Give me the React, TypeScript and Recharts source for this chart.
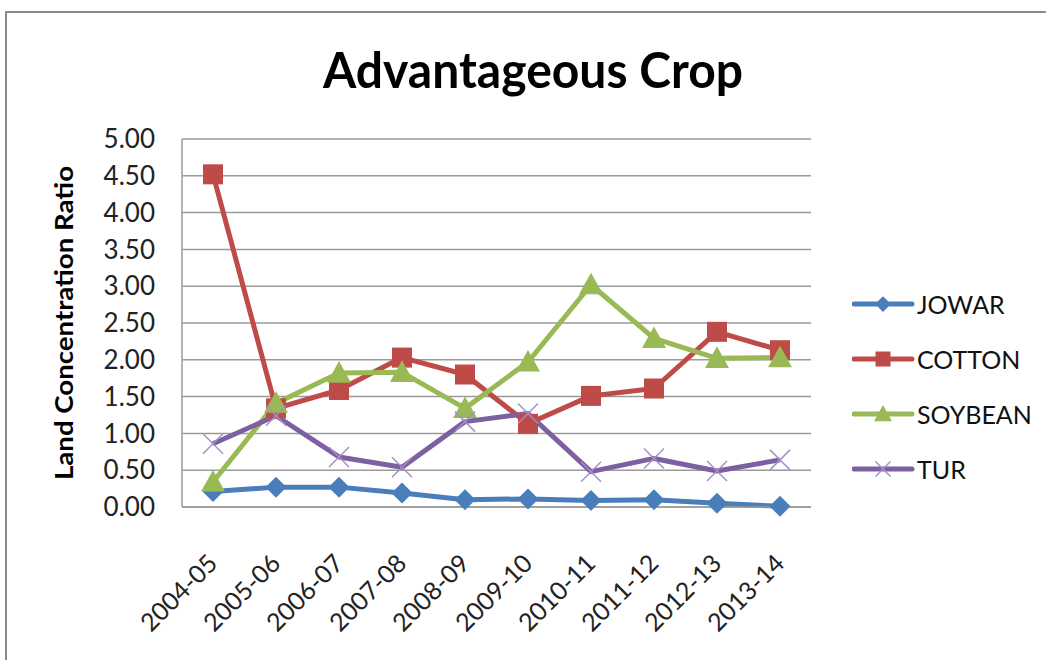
import React from "react";
import {
  LineChart,
  Line,
  XAxis,
  YAxis,
  CartesianGrid,
  Legend,
} from "recharts";

const years = [
  "2004-05",
  "2005-06",
  "2006-07",
  "2007-08",
  "2008-09",
  "2009-10",
  "2010-11",
  "2011-12",
  "2012-13",
  "2013-14",
];
const jowar = [0.21, 0.27, 0.27, 0.19, 0.1, 0.11, 0.09, 0.1, 0.05, 0.01];
const cotton = [4.52, 1.34, 1.59, 2.03, 1.8, 1.13, 1.51, 1.61, 2.38, 2.13];
const soybean = [0.34, 1.41, 1.82, 1.83, 1.34, 1.97, 3.02, 2.29, 2.02, 2.03];
const tur = [0.86, 1.24, 0.68, 0.54, 1.16, 1.27, 0.48, 0.66, 0.49, 0.64];
const yTicks = [0, 0.5, 1, 1.5, 2, 2.5, 3, 3.5, 4, 4.5, 5];

const data = years.map((year, i) => ({
  year,
  JOWAR: jowar[i],
  COTTON: cotton[i],
  SOYBEAN: soybean[i],
  TUR: tur[i],
}));

const FONT = "Lato, 'Open Sans', sans-serif";

const series = [
  { key: "JOWAR", color: "#4A7EBB", marker: "diamond" },
  { key: "COTTON", color: "#BE4B48", marker: "square" },
  { key: "SOYBEAN", color: "#98B954", marker: "triangle" },
  { key: "TUR", color: "#7D60A0", marker: "cross" },
];

const Marker = ({ type, cx, cy, color, s = 1 }: any) => {
  if (cx == null || cy == null) return null;
  if (type === "diamond") {
    const r = 10.5 * s;
    return (
      <path
        d={`M${cx},${cy - r}L${cx + r},${cy}L${cx},${cy + r}L${cx - r},${cy}Z`}
        fill={color}
      />
    );
  }
  if (type === "square") {
    const r = 10 * s;
    return <rect x={cx - r} y={cy - r} width={2 * r} height={2 * r} fill={color} />;
  }
  if (type === "triangle") {
    const r = 12 * s;
    return (
      <path
        d={`M${cx},${cy - r}L${cx + r},${cy + r * 0.8}L${cx - r},${cy + r * 0.8}Z`}
        fill={color}
      />
    );
  }
  const r = 10 * s;
  return (
    <g stroke="#A48FC6" strokeWidth={1.5}>
      <line x1={cx - r} y1={cy - r} x2={cx + r} y2={cy + r} />
      <line x1={cx - r} y1={cy + r} x2={cx + r} y2={cy - r} />
    </g>
  );
};

const XTick = ({ x, y, payload }: any) => {
  const tx = x + 6;
  const ty = y + 50;
  return (
    <text
      x={tx}
      y={ty}
      transform={`rotate(-45, ${tx}, ${ty})`}
      textAnchor="end"
      fontSize={25}
      fontFamily={FONT}
      fill="#222"
    >
      {payload.value}
    </text>
  );
};

const YLabel = ({ viewBox }: any) => {
  const cx = viewBox.x - 49;
  const cy = viewBox.y + viewBox.height / 2;
  return (
    <text
      x={cx}
      y={cy}
      transform={`rotate(-90, ${cx}, ${cy})`}
      textAnchor="middle"
      fontSize={24}
      fontWeight="bold"
      fontFamily={FONT}
      textLength={314}
      lengthAdjust="spacingAndGlyphs"
      fill="#000"
    >
      Land Concentration Ratio
    </text>
  );
};

const LegendBox = () => (
  <div>
    {series.map((s) => (
      <div
        key={s.key}
        style={{ height: 55, display: "flex", alignItems: "center" }}
      >
        <svg width={64} height={30}>
          <line x1={2} y1={15} x2={60} y2={15} stroke={s.color} strokeWidth={5} strokeLinecap="round" />
          <Marker type={s.marker} cx={31} cy={15} color={s.color} s={0.75} />
        </svg>
        <span
          style={{
            fontFamily: FONT,
            fontSize: 25,
            color: "#111",
            marginLeft: 1,
          }}
        >
          {s.key}
        </span>
      </div>
    ))}
  </div>
);

export default function App() {
  return (
    <div
      style={{
        position: "absolute",
        left: 0,
        top: 0,
        width: 1046,
        height: 660,
        background: "#fff",
        overflow: "hidden",
      }}
    >
      <div
        style={{
          position: "absolute",
          left: 5,
          top: 11,
          width: 1100,
          height: 700,
          borderLeft: "2px solid #8a8a8a",
          borderTop: "2px solid #8a8a8a",
        }}
      />
      <svg
        width={1046}
        height={120}
        style={{ position: "absolute", left: 0, top: 0 }}
      >
        <text
          x={533}
          y={88}
          textAnchor="middle"
          fontSize={50}
          fontWeight="bold"
          fontFamily={FONT}
          textLength={420}
          lengthAdjust="spacingAndGlyphs"
          fill="#000"
        >
          Advantageous Crop
        </text>
      </svg>
      <div style={{ position: "absolute", left: 0, top: 0 }}>
        <LineChart
          width={1046}
          height={660}
          data={data}
          margin={{ top: 139, right: 45, bottom: 13, left: 122 }}
        >
          <CartesianGrid vertical={false} stroke="#9a9a9a" strokeWidth={1.5} />
          <XAxis
            dataKey="year"
            height={140}
            padding={{ left: 31, right: 31 }}
            axisLine={{ stroke: "#9a9a9a", strokeWidth: 1.5 }}
            tickLine={false}
            tick={<XTick />}
            interval={0}
          />
          <YAxis
            width={60}
            domain={[0, 5]}
            ticks={yTicks}
            interval={0}
            tickFormatter={(v: number) => v.toFixed(2)}
            axisLine={{ stroke: "#9a9a9a", strokeWidth: 1.5 }}
            tickLine={false}
            tickSize={0}
            tickMargin={27}
            tick={{ fontSize: 26, fontFamily: FONT, fill: "#222" }}
            label={<YLabel />}
          />
          <Legend
            layout="vertical"
            align="right"
            verticalAlign="middle"
            content={<LegendBox />}
            wrapperStyle={{ width: 190, left: 852, right: "auto", top: 276 }}
          />
          {series.map((s) => (
            <Line
              key={s.key}
              dataKey={s.key}
              stroke={s.color}
              strokeWidth={5}
              strokeLinejoin="round"
              isAnimationActive={false}
              dot={(p: any) => (
                <Marker key={`${s.key}-${p.index}`} type={s.marker} cx={p.cx} cy={p.cy} color={s.color} />
              )}
              activeDot={false}
            />
          ))}
        </LineChart>
      </div>
    </div>
  );
}
